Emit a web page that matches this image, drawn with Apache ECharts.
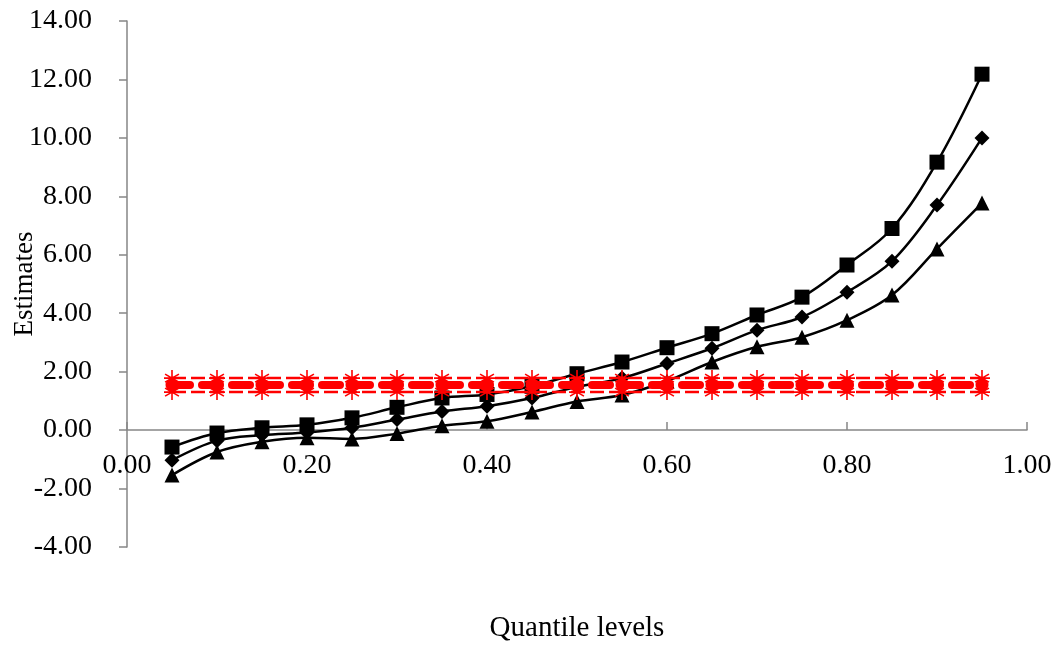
<!DOCTYPE html>
<html><head><meta charset="utf-8">
<script src="https://cdn.jsdelivr.net/npm/echarts@6/dist/echarts.min.js"></script>
<style>html,body{margin:0;padding:0;background:#fff}#c{width:1055px;height:647px}</style>
</head><body><div id="c"></div>
<script>
var quantiles = [0.05,0.10,0.15,0.20,0.25,0.30,0.35,0.40,0.45,0.50,0.55,0.60,0.65,0.70,0.75,0.80,0.85,0.90,0.95];
var upperSquare = [-0.58,-0.10,0.08,0.18,0.42,0.78,1.10,1.22,1.50,1.93,2.33,2.82,3.30,3.94,4.55,5.65,6.90,9.17,12.18];
var middleDiamond = [-1.03,-0.36,-0.17,-0.08,0.08,0.36,0.64,0.82,1.10,1.48,1.78,2.28,2.80,3.42,3.87,4.72,5.78,7.70,10.00];
var lowerTriangle = [-1.54,-0.75,-0.40,-0.26,-0.30,-0.12,0.15,0.30,0.62,0.98,1.20,1.68,2.33,2.85,3.18,3.76,4.62,6.20,7.77];
var redUpper = [1.78,1.78,1.78,1.78,1.78,1.78,1.78,1.78,1.78,1.78,1.78,1.78,1.78,1.78,1.78,1.78,1.78,1.78,1.78];
var redMiddle = [1.54,1.54,1.54,1.54,1.54,1.54,1.54,1.54,1.54,1.54,1.54,1.54,1.54,1.54,1.54,1.54,1.54,1.54,1.54];
var redLower = [1.30,1.30,1.30,1.30,1.30,1.30,1.30,1.30,1.30,1.30,1.30,1.30,1.30,1.30,1.30,1.30,1.30,1.30,1.30];
var xTicks = {min:0, max:1, interval:0.2};
var yTicks = {min:-4, max:14, interval:2};

function pairs(v){ return quantiles.map(function(q,i){ return [q, v[i]]; }); }
var font = '"Liberation Serif","Times New Roman",serif';
var asterisk = 'path://M10 0 L10 20 M1.34 5 L18.66 15 M1.34 15 L18.66 5 M0 10 L20 10';

var gridTop = 21, gridBottomPx = 547, H = 647;
// distance from grid bottom (y=-4) up to the y=0 line
var zeroOffset = (gridBottomPx - gridTop) * (0 - yTicks.min) / (yTicks.max - yTicks.min);

function blackSeries(data, sym, size){
  return {type:'line', data:pairs(data), smooth:0.35, symbol:sym, symbolSize:size,
    showSymbol:true, showAllSymbol:true,
    lineStyle:{color:'#000', width:2.5}, itemStyle:{color:'#000'}, z:2};
}
function redThin(data){
  return {type:'line', data:pairs(data), symbol:asterisk, symbolSize:[16,16],
    showAllSymbol:true,
    lineStyle:{color:'#ff0000', width:2.5, type:[14,5]},
    itemStyle:{color:'#ff0000', borderColor:'#ff0000', borderWidth:1.6}, z:4};
}

var chart = echarts.init(document.getElementById('c'), null, {renderer:'canvas'});
chart.setOption({
  animation:false,
  backgroundColor:'#fff',
  grid:{left:127, right:28, top:gridTop, bottom:H - gridBottomPx, containLabel:false, outerBoundsMode:'none'},
  xAxis:{type:'value', min:xTicks.min, max:xTicks.max, interval:xTicks.interval,
    position:'bottom', offset:-zeroOffset,
    name:'Quantile levels', nameLocation:'middle', nameGap:184, nameMoveOverlap:false,
    nameTextStyle:{fontFamily:font, fontSize:29, color:'#000'},
    axisLine:{onZero:false, lineStyle:{color:'#868686', width:1.5}},
    axisTick:{show:true, inside:true, length:8, lineStyle:{color:'#868686', width:1.5}},
    axisLabel:{margin:22, fontFamily:font, fontSize:28, color:'#000',
      formatter:function(v){return v.toFixed(2);}},
    splitLine:{show:false}},
  yAxis:{type:'value', min:yTicks.min, max:yTicks.max, interval:yTicks.interval,
    name:'Estimates', nameLocation:'middle', nameGap:89, nameMoveOverlap:false,
    nameTextStyle:{fontFamily:font, fontSize:27, color:'#000'},
    axisLine:{show:true, onZero:false, lineStyle:{color:'#868686', width:1.5}},
    axisTick:{show:true, inside:false, length:8, lineStyle:{color:'#868686', width:1.5}},
    axisLabel:{margin:35, fontFamily:font, fontSize:28, color:'#000',
      formatter:function(v){return v.toFixed(2);}},
    splitLine:{show:false}},
  series:[
    blackSeries(upperSquare,'rect',15),
    blackSeries(middleDiamond,'diamond',15),
    blackSeries(lowerTriangle,'triangle',15),
    redThin(redUpper),
    redThin(redLower),
    {type:'line', data:pairs(redMiddle), symbol:'circle', symbolSize:13, showAllSymbol:true,
      lineStyle:{color:'#ff0000', width:8, type:[18,12], cap:'round'},
      itemStyle:{color:'#ff0000'}, z:5}
  ]
});
</script></body></html>
